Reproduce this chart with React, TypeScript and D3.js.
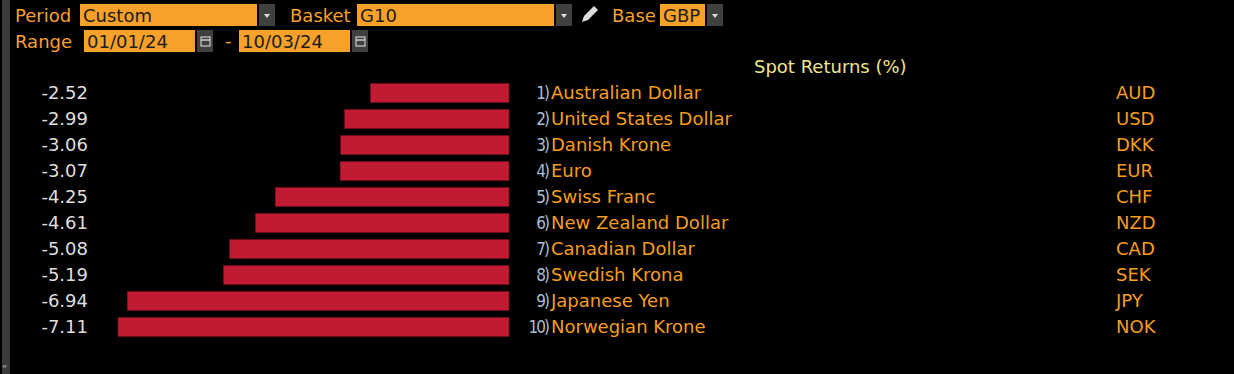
import React, {useEffect, useRef} from 'react';
import * as d3 from 'd3';

// G10 spot returns vs GBP, 01/01/24 - 10/03/24
const currencies = [
    'Australian Dollar', 'United States Dollar', 'Danish Krone', 'Euro', 'Swiss Franc',
    'New Zealand Dollar', 'Canadian Dollar', 'Swedish Krona', 'Japanese Yen', 'Norwegian Krone'
];
const codes = ['AUD', 'USD', 'DKK', 'EUR', 'CHF', 'NZD', 'CAD', 'SEK', 'JPY', 'NOK'];
const returns = [-2.52, -2.99, -3.06, -3.07, -4.25, -4.61, -5.08, -5.19, -6.94, -7.11];

const title = 'Spot Returns (%)';
const period = 'Custom';
const basket = 'G10';
const base = 'GBP';
const rangeFrom = '01/01/24';
const rangeTo = '10/03/24';

const width = 1234;
const height = 374;

const orange = '#f7a12a';
const labelOrange = '#f59d1c';
const font = '"DejaVu Sans", Verdana, sans-serif';

function App() {
    const ref = useRef<SVGSVGElement | null>(null);

    useEffect(() => {
        const svg = d3.select(ref.current);
        svg.selectAll('*').remove();

        svg.append('rect').attr('width', width).attr('height', height).attr('fill', '#000');
        // left gutter strip
        svg.append('rect').attr('x', 2).attr('y', 0).attr('width', 8).attr('height', height).attr('fill', '#3a3a3a');
        svg.append('text').attr('x', 2).attr('y', 373).attr('fill', '#bbb')
            .attr('font-family', font).attr('font-size', 10).text('\u201C');

        // ---- header controls ----
        const hdr = svg.append('g').attr('font-family', font).attr('font-size', 18);

        const label = (x, y, t) => hdr.append('text').attr('x', x).attr('y', y).attr('fill', orange).text(t);
        const field = (x, y, w, t) => {
            hdr.append('rect').attr('x', x).attr('y', y).attr('width', w).attr('height', 22).attr('fill', orange);
            hdr.append('text').attr('x', x + 3).attr('y', y + 18).attr('fill', '#1c1c1c').text(t);
        };
        const dropdown = (x, y) => {
            hdr.append('rect').attr('x', x).attr('y', y).attr('width', 16).attr('height', 22).attr('fill', '#404040');
            hdr.append('path')
                .attr('d', `M${x + 5},${y + 10}L${x + 11},${y + 10}L${x + 8},${y + 14}Z`)
                .attr('fill', '#ddd');
        };
        const calendar = (x, y) => {
            hdr.append('rect').attr('x', x).attr('y', y).attr('width', 16).attr('height', 22).attr('fill', '#404040');
            hdr.append('rect').attr('x', x + 4).attr('y', y + 7).attr('width', 9).attr('height', 9)
                .attr('fill', 'none').attr('stroke', '#ccc').attr('stroke-width', 1.2);
            hdr.append('line').attr('x1', x + 4).attr('x2', x + 13).attr('y1', y + 10).attr('y2', y + 10)
                .attr('stroke', '#ccc').attr('stroke-width', 1.5);
        };

        label(15, 22, 'Period');
        field(80, 4, 177, period);
        dropdown(259, 4);
        label(290, 22, 'Basket');
        field(357, 4, 197, basket);
        dropdown(556, 4);
        // pencil icon
        hdr.append('path')
            .attr('d', 'M582,22 L584,16 L594,6 L598,10 L588,20 Z')
            .attr('fill', '#ddd');
        label(612, 22, 'Base');
        field(660, 4, 45, base);
        dropdown(707, 4);

        label(15, 48, 'Range');
        field(84, 30, 111, rangeFrom);
        calendar(197, 30);
        label(225, 47, '-');
        field(239, 30, 111, rangeTo);
        calendar(352, 30);

        // ---- chart ----
        const x = d3.scaleLinear().domain([-7.2, 0]).range([509 - 7.2 * 55, 509]);
        const y = d3.scaleBand()
            .domain(codes)
            .range([80, 340])
            .paddingInner(0.27)
            .paddingOuter(0.135);

        svg.append('text')
            .attr('x', 754).attr('y', 73)
            .attr('fill', '#efe68a')
            .attr('font-family', font).attr('font-size', 18)
            .text(title);

        const rows = svg.selectAll('g.row')
            .data(codes.map((c, i) => ({code: c, name: currencies[i], value: returns[i], idx: i + 1})))
            .enter()
            .append('g')
            .attr('class', 'row');

        rows.append('rect')
            .attr('x', (d) => x(d.value))
            .attr('y', (d) => y(d.code))
            .attr('width', (d) => x(0) - x(d.value))
            .attr('height', y.bandwidth())
            .attr('fill', '#c11a33')
            .attr('stroke', '#7a0f1d')
            .attr('stroke-width', 0.6);

        const mid = (d) => y(d.code) + y.bandwidth() / 2 + 6;

        rows.append('text')
            .attr('x', 88).attr('y', mid)
            .attr('text-anchor', 'end')
            .attr('fill', '#dedede')
            .attr('font-family', font).attr('font-size', 18)
            .text((d) => d.value.toFixed(2));

        rows.append('text')
            .attr('x', 548).attr('y', mid)
            .attr('text-anchor', 'end')
            .attr('fill', '#a9bdd4')
            .attr('font-family', '"DejaVu Sans Condensed", sans-serif').attr('font-size', 17)
            .attr('letter-spacing', -2)
            .text((d) => `${d.idx})`);

        rows.append('text')
            .attr('x', 551).attr('y', mid)
            .attr('fill', labelOrange)
            .attr('font-family', font).attr('font-size', 18)
            .text((d) => d.name);

        rows.append('text')
            .attr('x', 1116).attr('y', mid)
            .attr('fill', labelOrange)
            .attr('font-family', font).attr('font-size', 18)
            .text((d) => d.code);
    }, []);

    return (
        <svg ref={ref} width={width} height={height}
             style={{position: 'absolute', left: 0, top: 0, display: 'block'}}/>
    );
}

export default App;
